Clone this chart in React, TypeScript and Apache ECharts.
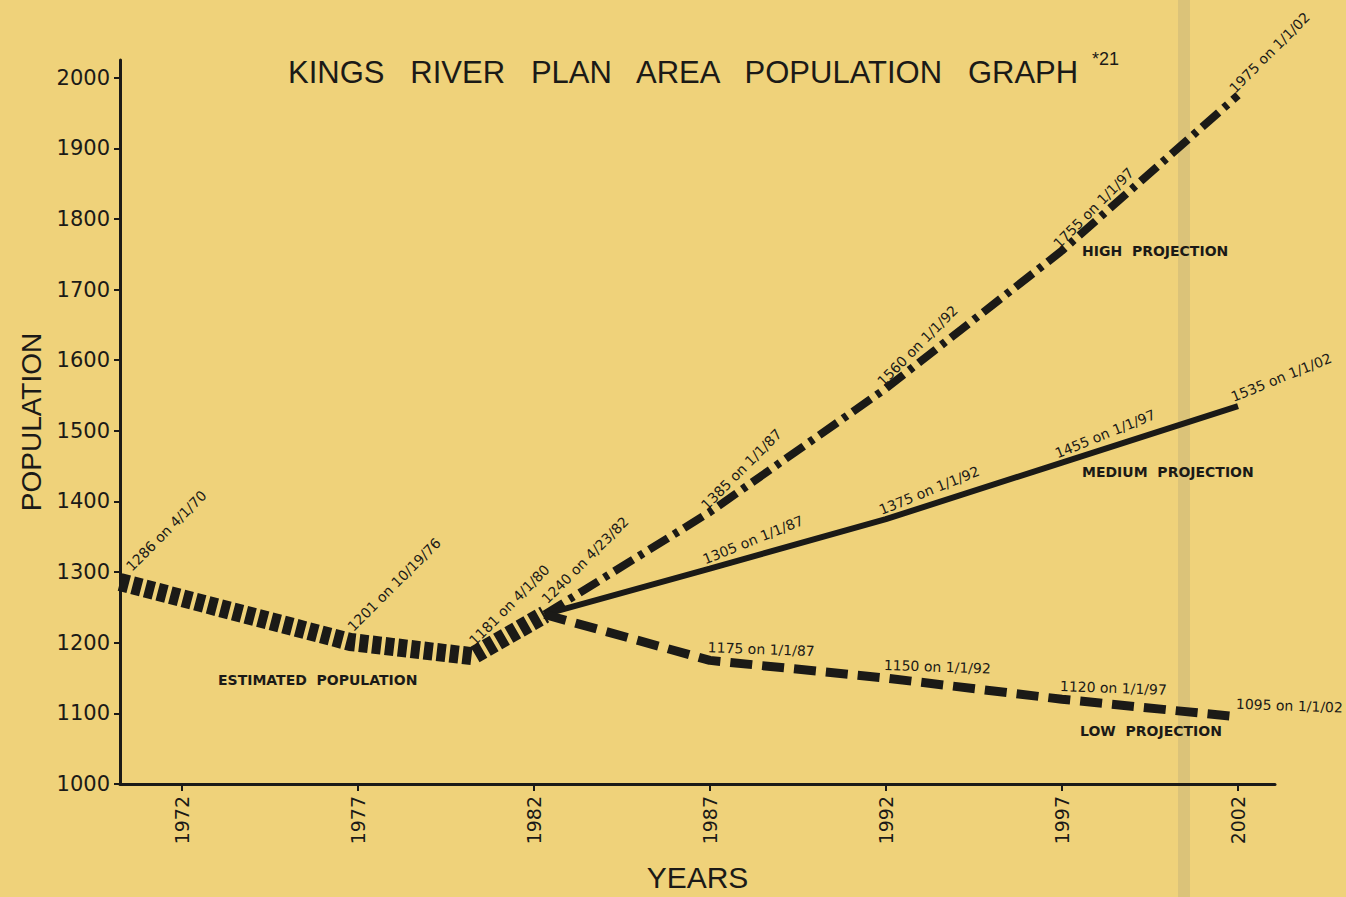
import React, { useEffect, useRef } from "react";
import * as echarts from "echarts";

const yTicks = [1000, 1100, 1200, 1300, 1400, 1500, 1600, 1700, 1800, 1900, 2000];
const xTicks = [1972, 1977, 1982, 1987, 1992, 1997, 2002];

const estYears = [1970.25, 1976.8, 1980.25, 1982.31];
const estValues = [1286, 1201, 1181, 1240];
const estLabels = ["1286 on 4/1/70", "1201 on 10/19/76", "1181 on 4/1/80", "1240 on 4/23/82"];

const projYears = [1982.31, 1987, 1992, 1997, 2002];
const highValues = [1240, 1385, 1560, 1755, 1975];
const highLabels = ["", "1385 on 1/1/87", "1560 on 1/1/92", "1755 on 1/1/97", "1975 on 1/1/02"];
const medValues = [1240, 1305, 1375, 1455, 1535];
const medLabels = ["", "1305 on 1/1/87", "1375 on 1/1/92", "1455 on 1/1/97", "1535 on 1/1/02"];
const lowValues = [1240, 1175, 1150, 1120, 1095];
const lowLabels = ["", "1175 on 1/1/87", "1150 on 1/1/92", "1120 on 1/1/97", "1095 on 1/1/02"];

const INK = "#1b1a17";
const BG = "#efd27a";
const LFONT = "DejaVu Sans";

function buildData(xs: number[], ys: number[], labels: string[], rotate: number, offset: number[]) {
  return xs.map((x, i) => ({
    value: [x, ys[i]],
    label: {
      show: labels[i] !== "",
      formatter: labels[i],
      position: "right",
      distance: i === 0 ? 10 : 1,
      rotate,
      align: "left",
      verticalAlign: "bottom",
      offset,
      fontSize: 14,
      fontFamily: LFONT,
      color: INK,
    },
  }));
}

export default function App() {
  const ref = useRef<HTMLDivElement>(null);
  useEffect(() => {
    if (!ref.current) return;
    const chart = echarts.init(ref.current, undefined, { renderer: "svg" });
    const common = {
      type: "line",
      symbol: "circle",
      symbolSize: 1,
      itemStyle: { color: "rgba(0,0,0,0)" },
      z: 3,
    };
    chart.setOption({
      animation: false,
      backgroundColor: BG,
      title: {
        text: "KINGS   RIVER   PLAN   AREA   POPULATION   GRAPH",
        left: 283,
        top: 52,
        textStyle: { fontSize: 31, fontWeight: "normal", color: INK, fontFamily: "Liberation Sans" },
      },
      grid: { left: 120, right: 71, top: 60, bottom: 112, containLabel: false },
      xAxis: {
        type: "value",
        min: 1970.25,
        max: 2003.05,
        name: "YEARS",
        nameLocation: "middle",
        nameGap: 78,
        nameTextStyle: { fontSize: 30, color: INK, fontFamily: "Liberation Sans" },
        axisLine: { show: true, lineStyle: { color: INK, width: 3 } },
        axisTick: { show: true, customValues: xTicks, length: 7, lineStyle: { color: INK, width: 2 } },
        axisLabel: {
          customValues: xTicks,
          formatter: (v: number) => String(v),
          rotate: 90,
          fontSize: 19,
          margin: 12,
          color: INK,
          fontFamily: LFONT,
        },
        splitLine: { show: false },
      },
      yAxis: {
        type: "value",
        min: 1000,
        max: 2025,
        name: "POPULATION",
        nameLocation: "middle",
        nameRotate: 90,
        nameGap: 72,
        nameTextStyle: { fontSize: 28, color: INK, fontFamily: "Liberation Sans" },
        axisLine: { show: true, lineStyle: { color: INK, width: 3 } },
        axisTick: { show: true, customValues: yTicks, length: 6, lineStyle: { color: INK, width: 2 } },
        axisLabel: {
          customValues: yTicks,
          formatter: (v: number) => String(v),
          fontSize: 21,
          margin: 10,
          color: INK,
          fontFamily: LFONT,
        },
        splitLine: { show: false },
      },
      series: [
        {
          ...common,
          name: "Estimated Population",
          data: buildData(estYears, estValues, estLabels, 45, [8, -4]),
          lineStyle: { color: INK, width: 18, type: [9, 4], cap: "butt", join: "miter" },
          z: 2,
        },
        {
          ...common,
          name: "High Projection",
          data: buildData(projYears, highValues, highLabels, 45, [-2, -2]),
          lineStyle: { color: INK, width: 8, type: [22, 7, 5, 7], cap: "butt" },
        },
        {
          ...common,
          name: "Medium Projection",
          data: buildData(projYears, medValues, medLabels, 22, [-4, -4]),
          lineStyle: { color: INK, width: 6 },
        },
        {
          ...common,
          name: "Low Projection",
          data: buildData(projYears, lowValues, lowLabels, -2, [-4, -6]),
          lineStyle: { color: INK, width: 9, type: [22, 10], cap: "butt" },
        },
      ],
      graphic: [
        { type: "rect", z: 0, shape: { x: 1178, y: 0, width: 12, height: 897 }, style: { fill: "rgba(160,150,120,0.25)" } },
        { type: "text", x: 1092, y: 50, style: { text: "*21", font: "18px 'Liberation Sans'", fill: INK } },
        { type: "text", x: 218, y: 673, style: { text: "ESTIMATED  POPULATION", font: "bold 14px 'DejaVu Sans'", fill: INK } },
        { type: "text", x: 1082, y: 244, style: { text: "HIGH  PROJECTION", font: "bold 14px 'DejaVu Sans'", fill: INK } },
        { type: "text", x: 1082, y: 465, style: { text: "MEDIUM  PROJECTION", font: "bold 14px 'DejaVu Sans'", fill: INK } },
        { type: "text", x: 1080, y: 724, style: { text: "LOW  PROJECTION", font: "bold 14px 'DejaVu Sans'", fill: INK } },
      ],
    });
    return () => chart.dispose();
  }, []);
  return (
    <div
      ref={ref}
      style={{ position: "fixed", left: 0, top: 0, width: 1346, height: 897 }}
    />
  );
}
